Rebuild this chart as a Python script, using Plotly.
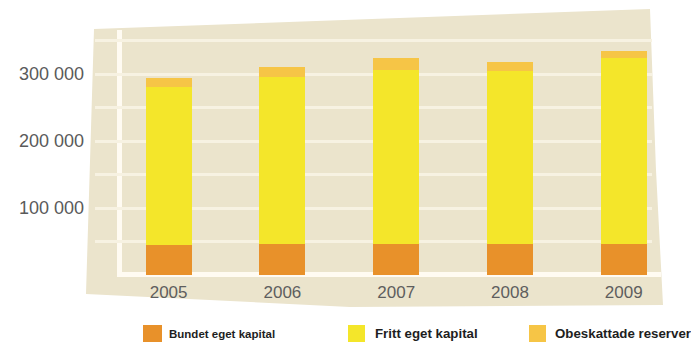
import plotly.graph_objects as go

# Equity composition per year (SEK thousands)
years = ["2005", "2006", "2007", "2008", "2009"]
bundet_eget_kapital = [45000, 46000, 46500, 46500, 47000]
fritt_eget_kapital = [235500, 249000, 259500, 258500, 276500]
obeskattade_reserver = [13500, 15000, 18500, 12500, 11000]

series_names = ["Bundet eget kapital", "Fritt eget kapital", "Obeskattade reserver"]
series_colors = ["#e8912a", "#f4e62a", "#f6c546"]

y_tick_vals = [100000, 200000, 300000]
y_tick_text = ["100 000", "200 000", "300 000"]

W, H = 691, 342
# plot area in pixels
L, R, T, B = 95, 652, 10, 275


def px(x):
    return (x - L) / (R - L)


def py(y):
    return (B - y) / (B - T)


fig = go.Figure()
for name, vals, col in zip(series_names,
                           [bundet_eget_kapital, fritt_eget_kapital, obeskattade_reserver],
                           series_colors):
    fig.add_trace(go.Bar(x=years, y=vals, name=name, marker_color=col,
                         marker_line_width=0, width=0.404, showlegend=False))

panel = [(94, 29), (650, 9), (656, 170), (663, 305), (350, 307), (86, 294)]
panel_path = "M " + " L ".join(f"{px(a):.5f},{py(b):.5f}" for a, b in panel) + " Z"

shapes = [
    dict(type="path", path=panel_path, xref="paper", yref="paper",
         fillcolor="#ebe4cc", line_width=0, layer="below"),
    # white axis frame
    dict(type="line", xref="paper", yref="paper", x0=px(119.5), x1=px(119.5),
         y0=py(30), y1=py(277), line=dict(color="#fffbf2", width=5), layer="between"),
    dict(type="line", xref="paper", yref="paper", x0=px(117), x1=px(661),
         y0=py(274.5), y1=py(274.5), line=dict(color="#fffbf2", width=5), layer="between"),
]

# legend swatches and labels: (swatch left, swatch right, text left, text size)
legend_pos = [(143, 162, 167, 11.5), (348, 365, 373, 13.3), (529, 546, 553, 13.3)]
annotations = []
for (x0, x1, tx, fs), name, col in zip(legend_pos, series_names, series_colors):
    shapes.append(dict(type="rect", xref="paper", yref="paper",
                       x0=px(x0), x1=px(x1), y0=py(325), y1=py(350),
                       fillcolor=col, line_width=0))
    annotations.append(dict(text=f"<b>{name}</b>", xref="paper", yref="paper",
                            x=px(tx), y=py(333.5), xanchor="left", yanchor="middle",
                            showarrow=False,
                            font=dict(family="Liberation Sans Narrow, Arial Narrow, Liberation Sans, sans-serif",
                                      size=fs, color="#1e1e1e")))

fig.update_layout(
    width=W, height=H,
    margin=dict(l=L, r=W - R, t=T, b=H - B, pad=0),
    barmode="stack",
    paper_bgcolor="white",
    plot_bgcolor="rgba(0,0,0,0)",
    shapes=shapes,
    annotations=annotations,
    xaxis=dict(type="category", range=[-0.647, 4.248], showgrid=False, zeroline=False,
               showline=False, ticks="", ticklabelstandoff=5,
               tickfont=dict(family="Liberation Sans, Arial, sans-serif", size=17, color="#5e5e5e")),
    yaxis=dict(range=[0, 395522], tickvals=y_tick_vals, ticktext=y_tick_text,
               showgrid=True, gridcolor="#f7f2e2", gridwidth=3, zeroline=False,
               showline=False, ticks="", ticklabelstandoff=10,
               minor=dict(tick0=0, dtick=50000, showgrid=True, gridcolor="#f7f2e2", gridwidth=3),
               tickfont=dict(family="Liberation Sans, Arial, sans-serif", size=18, color="#5a5a5a")),
)

fig.write_html("out.html")
